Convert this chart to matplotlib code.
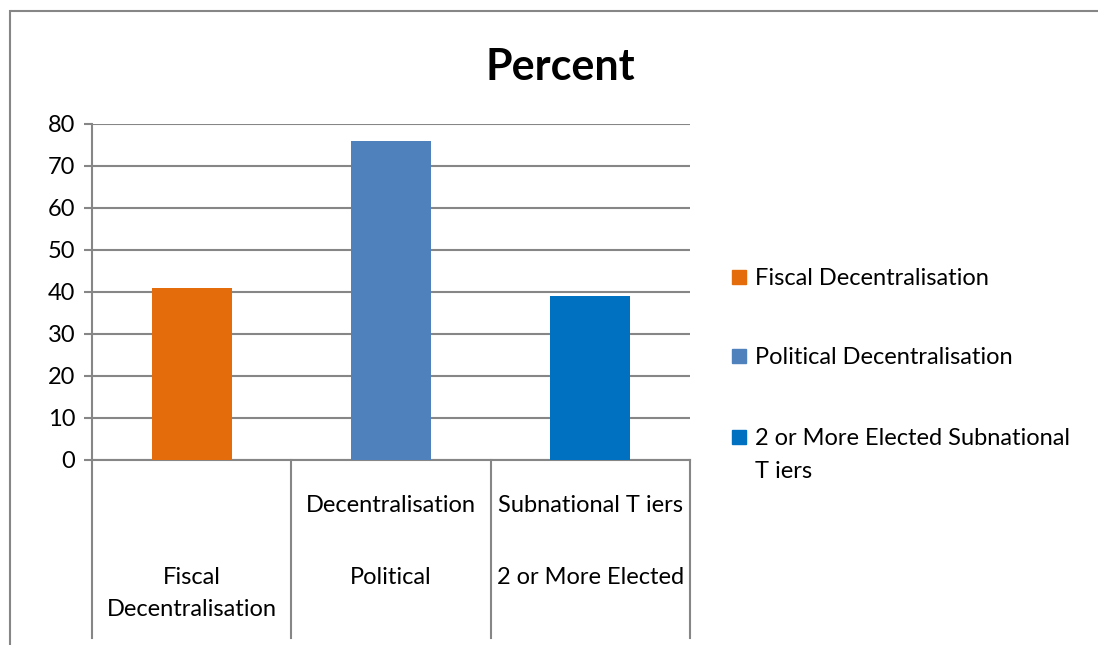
import matplotlib.pyplot as plt
from matplotlib.patches import Rectangle

# Share of countries per decentralisation measure
series = ["Fiscal Decentralisation", "Political Decentralisation",
          "2 or More Elected Subnational\nT iers"]
values = [41, 76, 39]
colors = ["#E46C0A", "#4F81BD", "#0070C0"]

# Two-level category labels under each bar
upper_labels = ["", "Decentralisation", "Subnational T iers"]
lower_labels = ["Fiscal\nDecentralisation", "Political", "2 or More Elected"]

yticks = [0, 10, 20, 30, 40, 50, 60, 70, 80]

GRAY = "#868686"
FONT = "Lato"
FS = 17

plt.rcParams["font.family"] = [FONT, "DejaVu Sans"]

fig = plt.figure(figsize=(10.98, 6.45), dpi=100)
ax = fig.add_axes([92 / 1098, 1 - 460 / 645, 598 / 1098, 336 / 645])

x = list(range(len(values)))
ax.bar(x, values, width=0.4, color=colors, zorder=3)

ax.set_xlim(-0.5, len(values) - 0.5)
ax.set_ylim(0, 80)
ax.set_yticks(yticks)
ax.set_yticklabels([str(t) for t in yticks], fontsize=FS)
ax.yaxis.grid(True, color=GRAY, lw=1.5, zorder=0)
ax.tick_params(axis="y", length=6, width=1.5, color=GRAY, pad=6)
ax.set_xticks([])

for side in ["top", "right"]:
    ax.spines[side].set_visible(False)
ax.spines["left"].set_color(GRAY)
ax.spines["left"].set_linewidth(1.5)
ax.spines["bottom"].set_color(GRAY)
ax.spines["bottom"].set_linewidth(1.5)

# category divider lines running down below the axis
xt = ax.get_xaxis_transform()
for b in [i - 0.5 for i in range(len(values) + 1)]:
    ax.plot([b, b], [0, -0.53], color=GRAY, lw=1.5, transform=xt,
            clip_on=False)

for i in x:
    if upper_labels[i]:
        ax.text(i, -0.134, upper_labels[i], transform=xt, ha="center",
                va="center", fontsize=FS)
    ax.text(i, -0.317, lower_labels[i], transform=xt, ha="center",
            va="top", fontsize=FS, linespacing=1.7)

fig.text(0.51, 0.896, "Percent", ha="center", va="center",
         fontsize=31, fontweight="bold")

# legend on the right
legend_y = [277, 356, 437]
for name, c, ly in zip(series, colors, legend_y):
    fig.patches.append(Rectangle((732 / 1098, 1 - (ly + 7) / 645),
                                 14 / 1098, 14 / 645, color=c,
                                 transform=fig.transFigure))
    fig.text(755 / 1098, 1 - (ly - 9) / 645, name, ha="left", va="top",
             fontsize=FS, linespacing=1.7)

# chart area border
fig.patches.append(Rectangle((10 / 1098, -0.1), 1.2, 1 - 11 / 645 + 0.1,
                             fill=False, edgecolor=GRAY, lw=1.5,
                             transform=fig.transFigure))

fig.savefig("out.png", dpi=100)
